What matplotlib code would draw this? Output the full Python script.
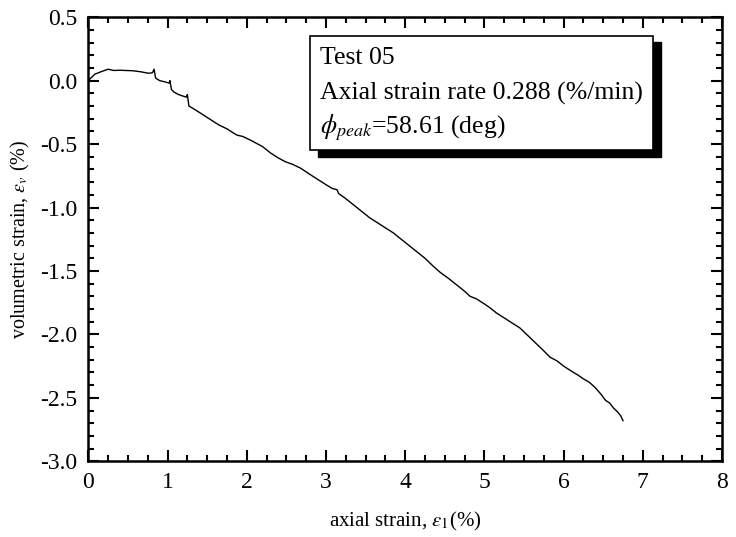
import matplotlib.pyplot as plt
from matplotlib.ticker import MultipleLocator, FormatStrFormatter
from matplotlib.patches import Rectangle

plt.rcParams['font.family'] = ['Liberation Serif', 'DejaVu Serif']
plt.rcParams['mathtext.fontset'] = 'stix'
plt.rcParams['axes.unicode_minus'] = False

# axial strain (%) and volumetric strain (%)
axial = [0.0, 0.08, 0.16, 0.25, 0.32, 0.4, 0.47, 0.56, 0.66, 0.76, 0.81, 0.83,
         0.85, 0.9, 0.97, 1.02, 1.03, 1.05, 1.08, 1.14, 1.21, 1.24, 1.25, 1.27,
         1.35, 1.45, 1.55, 1.65, 1.75, 1.85, 1.88, 1.95, 2.05, 2.11, 2.2,
         2.3, 2.4, 2.49, 2.58, 2.68, 2.8, 2.9, 3.0, 3.08, 3.14, 3.16, 3.25,
         3.35, 3.45, 3.55, 3.65, 3.75, 3.85, 3.95, 4.05, 4.15, 4.25, 4.35,
         4.44, 4.55, 4.65, 4.75, 4.82, 4.9, 5.0, 5.07, 5.15, 5.25, 5.35,
         5.45, 5.55, 5.65, 5.75, 5.83, 5.92, 6.0, 6.1, 6.18, 6.25, 6.33,
         6.4, 6.47, 6.53, 6.58, 6.63, 6.68, 6.72, 6.75]
volumetric = [0.0, 0.05, 0.07, 0.09, 0.08, 0.082, 0.08, 0.078, 0.07, 0.058,
              0.062, 0.09, 0.02, 0.0, -0.01, -0.02, 0.0, -0.07, -0.09, -0.11,
              -0.125, -0.13, -0.11, -0.2, -0.23, -0.27, -0.31, -0.35, -0.38,
              -0.42, -0.43, -0.44, -0.47, -0.49, -0.52, -0.57, -0.61, -0.64,
              -0.66, -0.69, -0.74, -0.78, -0.82, -0.85, -0.86, -0.89, -0.93,
              -0.98, -1.03, -1.08, -1.12, -1.16, -1.2, -1.25, -1.3, -1.35,
              -1.4, -1.46, -1.51, -1.56, -1.61, -1.66, -1.7, -1.72, -1.76,
              -1.79, -1.83, -1.87, -1.91, -1.95, -2.01, -2.07, -2.13, -2.18,
              -2.21, -2.25, -2.29, -2.32, -2.35, -2.38, -2.42, -2.47, -2.52,
              -2.54, -2.58, -2.61, -2.64, -2.68]

info_lines = ['Test 05', 'Axial strain rate 0.288 (%/min)',
              r'$\phi_{peak}$=58.61 (deg)']

fig = plt.figure(figsize=(7.36, 5.37), dpi=100)
ax = fig.add_axes([0.12, 0.141, 0.861, 0.827])

ax.plot(axial, volumetric, color='black', linewidth=1.0)

ax.set_xlim(0, 8)
ax.set_ylim(-3.0, 0.5)
ax.xaxis.set_major_locator(MultipleLocator(1))
ax.xaxis.set_minor_locator(MultipleLocator(0.25))
ax.yaxis.set_major_locator(MultipleLocator(0.5))
ax.yaxis.set_minor_locator(MultipleLocator(0.1))
ax.yaxis.set_major_formatter(FormatStrFormatter('%.1f'))
ax.tick_params(which='both', direction='in', top=True, right=True, width=1.5)
ax.tick_params(which='major', length=8, labelsize=17, pad=8)
ax.tick_params(which='minor', length=4)
for s in ax.spines.values():
    s.set_linewidth(1.8)

ax.set_xlabel(r'axial strain, $\varepsilon_1$(%)', fontsize=15, labelpad=12)
ax.set_ylabel(r'volumetric strain, $\varepsilon_v$ (%)', fontsize=14.5, labelpad=6)

# text box with shadow
bx, by, bw, bh = 0.35, 0.70, 0.541, 0.257
ax.add_patch(Rectangle((bx + 0.012, by - 0.014), bw, bh, transform=ax.transAxes,
                       facecolor='black', edgecolor='black', zorder=4))
ax.add_patch(Rectangle((bx, by), bw, bh, transform=ax.transAxes,
                       facecolor='white', edgecolor='black', linewidth=1.2,
                       zorder=5))
line_y = [0.908, 0.829, 0.752]
for line, ly in zip(info_lines, line_y):
    ax.text(bx + 0.016, ly, line, transform=ax.transAxes,
            fontsize=18.5, va='center', ha='left', zorder=6)

fig.savefig('out.png', dpi=100)
